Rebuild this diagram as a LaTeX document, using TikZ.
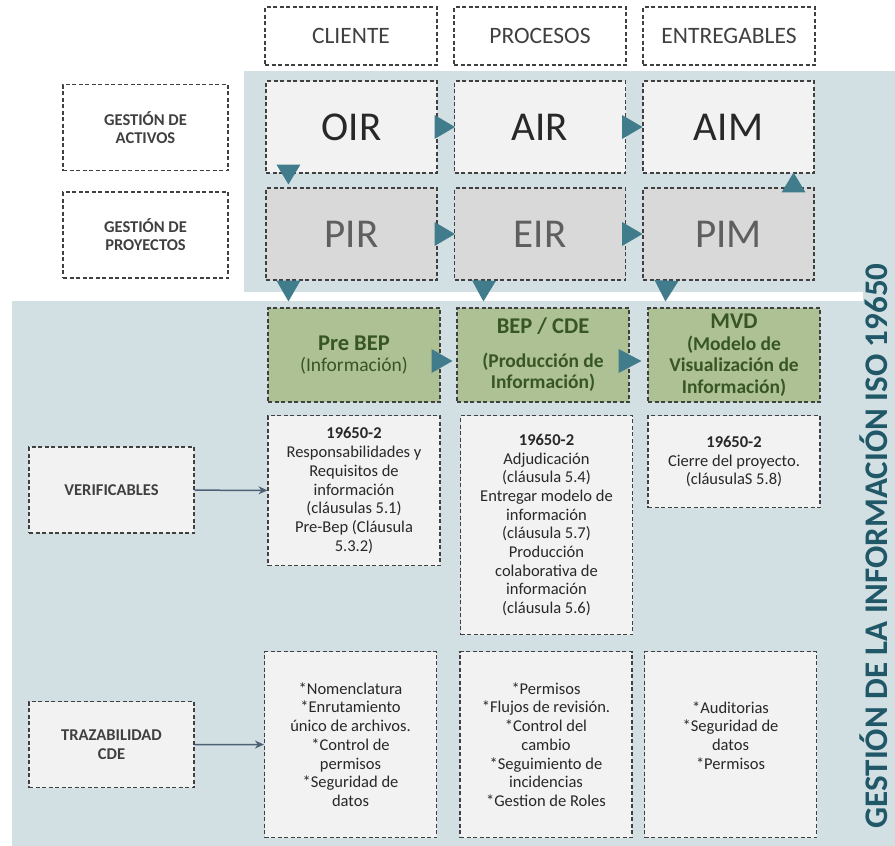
\documentclass[tikz,border=0pt]{standalone}
\usepackage{fontspec}
\setmainfont{Carlito}
\usetikzlibrary{calc,arrows.meta}

\definecolor{fondo}{RGB}{210,223,227}
\definecolor{borde}{RGB}{64,64,64}
\definecolor{oscuro}{RGB}{40,40,40}
\definecolor{grismedio}{RGB}{95,95,95}
\definecolor{claro}{RGB}{242,242,242}
\definecolor{medio}{RGB}{217,217,217}
\definecolor{oliva}{RGB}{173,193,148}
\definecolor{verdeosc}{RGB}{55,86,35}
\definecolor{azulpunta}{RGB}{64,124,140}
\definecolor{azultexto}{RGB}{33,88,104}
\definecolor{pizarra}{RGB}{78,96,116}

% triangulo relleno: base en #1, punta en #2
\newcommand{\triang}[2]{\fill[azulpunta] ($(#1)!12pt!90:(#2)$) -- (#2) -- ($(#1)!12pt!-90:(#2)$) -- cycle;}

\begin{document}
\begin{tikzpicture}[x=1pt, y=-1pt,
  caja/.style={draw=borde, dash pattern=on 4pt off 2.5pt, line width=1.1pt, align=center, inner sep=0pt},
  cabecera/.style={caja, minimum width=172, minimum height=58, text=borde, font=\fontsize{23.5}{27}\selectfont},
  fila/.style={caja, minimum width=165, minimum height=86, text=borde, font=\fontsize{16.5}{18}\selectfont\bfseries},
  grande/.style={caja, minimum width=171, minimum height=92, font=\fontsize{41}{44}\selectfont},
  verde/.style={caja, fill=oliva, minimum width=172, minimum height=94, text=verdeosc, font=\fontsize{19.5}{21.5}\selectfont\bfseries},
  lateral/.style={caja, fill=claro, minimum width=165, minimum height=86, text=borde, font=\fontsize{16.5}{19}\selectfont\bfseries},
  nota/.style={caja, fill=claro, anchor=north, minimum width=172, text=oscuro, font=\fontsize{16.5}{18.7}\selectfont},
  enlace/.style={draw=pizarra, line width=1.5pt, -{Stealth[length=9pt, width=8pt]}}]
    \useasboundingbox (0,0) rectangle (895,846);

    % fondos
    \fill[fondo] (244,71) rectangle (895,301);
    \fill[fondo] (12,301) rectangle (895,846);
    \fill[white] (244,292) rectangle (863,301);

    % cabeceras
    \node[cabecera] (cli) at (351,36) {CLIENTE};
    \node[cabecera] (pro) at (540,36) {PROCESOS};
    \node[cabecera] (ent) at (729,36) {ENTREGABLES};

    \node[fila] (gact) at (145.5,127.5) {GESTIÓN DE\\ACTIVOS};
    \node[fila] (gpro) at (145.5,235) {GESTIÓN DE\\PROYECTOS};

    % requisitos
    \node[grande, fill=claro, text=oscuro] (oir) at (351.5,127) {OIR};
    \node[grande, fill=claro, text=oscuro] (air) at (540,127) {AIR};
    \node[grande, fill=claro, text=oscuro] (aim) at (728.5,127) {AIM};
    \node[grande, fill=medio, text=grismedio] (pir) at (351.5,234) {PIR};
    \node[grande, fill=medio, text=grismedio] (eir) at (540,234) {EIR};
    \node[grande, fill=medio, text=grismedio] (pim) at (728.5,234) {PIM};

    % entregables
    \node[verde] (prebep) at (354,355) {{\fontsize{22.5}{24}\selectfont Pre BEP}\\{\mdseries (Información)}};
    \node[verde] (bep) at (543,355) {{\fontsize{22.5}{24}\selectfont BEP / CDE}\\[12pt](Producción de\\Información)};
    \node[verde] (mvd) at (734,355) {{\fontsize{22.5}{24}\selectfont MVD}\\(Modelo de\\Visualización de\\Información)};

    % verificables
    \node[lateral] (verif) at (111.5,490) {VERIFICABLES};
    \node[nota, minimum height=150] (ver1) at (354,415) {\textbf{19650-2}\\Responsabilidades y\\Requisitos de\\información\\(cláusulas 5.1)\\Pre-Bep (Cláusula\\5.3.2)};
    \node[nota, minimum height=219] (ver2) at (546.5,415) {\textbf{19650-2}\\Adjudicación\\(cláusula 5.4)\\Entregar modelo de\\información\\(cláusula 5.7)\\Producción\\colaborativa de\\información\\(cláusula 5.6)};
    \node[nota, minimum height=92] (ver3) at (734,415) {\textbf{19650-2}\\Cierre del proyecto.\\(cláusulaS 5.8)};

    % trazabilidad
    \node[lateral] (traz) at (111.5,744.5) {TRAZABILIDAD\\CDE};
    \node[nota, minimum height=186] (traz1) at (350.5,651) {*Nomenclatura\\*Enrutamiento\\único de archivos.\\*Control de\\permisos\\*Seguridad de\\datos};
    \node[nota, minimum height=186] (traz2) at (546,651) {*Permisos\\*Flujos de revisión.\\*Control del\\cambio\\*Seguimiento de\\incidencias\\*Gestion de Roles};
    \node[nota, minimum height=186] (traz3) at (730.5,651) {*Auditorias\\*Seguridad de\\datos\\*Permisos\\ \mbox{}};

    \node[rotate=90, anchor=base, inner sep=0pt, text=azultexto, font=\fontsize{33}{36}\selectfont\bfseries] (iso) at (887,546) {GESTIÓN DE LA INFORMACIÓN ISO 19650};

    % flechas triangulares
    \triang{$(oir.east)+(-3,0)$}{$(air.west)+(1,0)$}
    \triang{$(air.east)+(-4,0)$}{$(aim.west)+(0,0)$}
    \triang{$(pir.east)+(-3,0)$}{$(eir.west)+(1,0)$}
    \triang{$(eir.east)+(-4,0)$}{$(pim.west)+(0,0)$}
    \triang{$(oir.south west)+(23,-9)$}{$(pir.north west)+(23,-3)$}
    \triang{$(pim.north east)+(-21,5)$}{$(aim.south east)+(-21,-1)$}
    \triang{$(pir.south west)+(23,0)$}{$(prebep.north west)+(21,-6)$}
    \triang{$(eir.south west)+(30,0)$}{$(bep.north west)+(27,-6)$}
    \triang{$(pim.south west)+(24,0)$}{$(mvd.north west)+(18,-6)$}
    \triang{$(prebep.east)+(-9,6)$}{$(bep.west)+(-4,6)$}
    \triang{$(bep.east)+(-11,6)$}{$(mvd.west)+(-6,6)$}

    % conectores
    \draw[enlace] (verif) -- (ver1);
    \draw[enlace] (traz) -- (traz1);
\end{tikzpicture}
\end{document}
